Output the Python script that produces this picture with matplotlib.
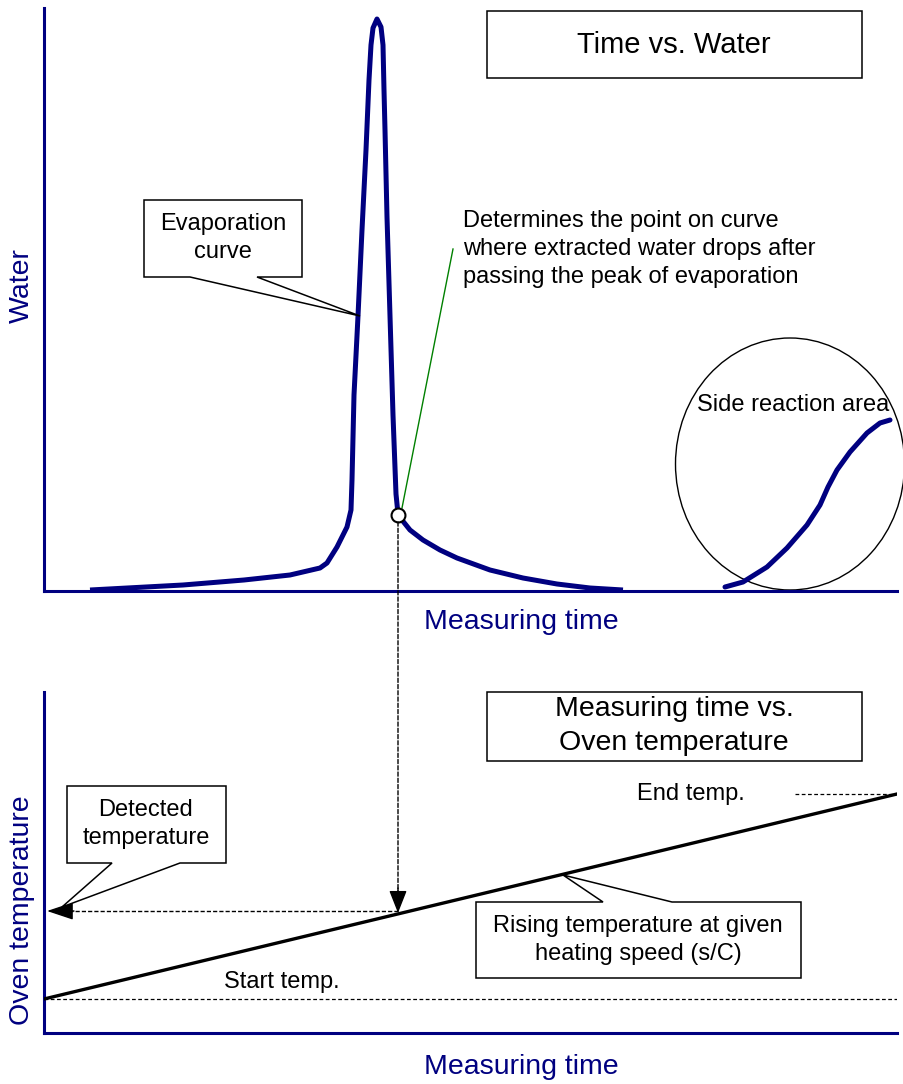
import matplotlib
matplotlib.use('Agg')
import matplotlib.pyplot as plt
from matplotlib.patches import Polygon, Rectangle, Ellipse, ConnectionPatch

plt.rcParams['font.family'] = ['Liberation Sans', 'DejaVu Sans']

NAVY = '#000080'

# evaporation curve (time vs water), arbitrary units
evap_time = [46, 139, 200, 246, 276, 283, 293, 303, 307, 308, 310, 314, 318, 322, 325,
             327, 329, 333, 337, 339, 340, 341, 343, 346, 349, 352, 354, 358, 366, 379,
             396, 413, 446, 479, 513, 546, 579]
evap_water = [1, 6, 11, 16, 23, 28, 44, 64, 81, 111, 196, 275, 361, 441, 511,
              546, 563, 572, 564, 546, 501, 461, 374, 275, 176, 97, 77, 71, 61, 51,
              41, 33, 21, 13, 7, 3, 1]

# side reaction curve
side_time = [681, 699, 723, 743, 763, 776, 784, 793, 806, 823, 836, 846]
side_water = [4, 9, 24, 43, 66, 86, 104, 121, 139, 158, 168, 171]

# detection point on the evaporation curve
detect_time = 354
detect_water = 76

# oven temperature ramp
oven_time = [0, 853]
oven_temp = [34, 239]
start_temp = 34
end_temp = 239
detected_temp = 122

fig = plt.figure(figsize=(9.04, 10.84), dpi=100)

W, H = 904, 1084
ax1 = fig.add_axes([44 / W, 1 - 591 / H, 853 / W, 583 / H])
ax2 = fig.add_axes([44 / W, 1 - 1033 / H, 853 / W, 341 / H])
for ax, ymax in ((ax1, 583), (ax2, 341)):
    ax.set_xlim(0, 853)
    ax.set_ylim(0, ymax)
    ax.set_xticks([])
    ax.set_yticks([])
    for s in ('top', 'right'):
        ax.spines[s].set_visible(False)
    for s in ('left', 'bottom'):
        ax.spines[s].set_color(NAVY)
        ax.spines[s].set_linewidth(2.2)
    ax.patch.set_visible(False)

# top panel
ax1.plot(evap_time, evap_water, color=NAVY, lw=3.6, solid_capstyle='butt',
         solid_joinstyle='round', zorder=3)
ax1.plot(side_time, side_water, color=NAVY, lw=3.6, solid_capstyle='round',
         solid_joinstyle='round', zorder=3)
ax1.add_patch(Ellipse((746, 127), 229, 252, fill=False, ec='black', lw=1.0, clip_on=False))
ax1.plot([358, 409], [83, 342], color='#008000', lw=1.0, zorder=2)
ax1.plot(detect_time, detect_water, 'o', ms=10, mfc='white', mec='black', mew=1.5, zorder=5)

# bottom panel
dash = (0, (3, 1.5))
ax2.plot(oven_time, oven_temp, color='black', lw=2.4, zorder=3)
ax2.plot([0, 853], [start_temp, start_temp], color='black', lw=0.9, dashes=(3, 2))
ax2.plot([751, 853], [end_temp, end_temp], color='black', lw=0.9, dashes=(3, 2))
ax2.plot([detect_time, 20], [detected_temp, detected_temp], color='black', lw=1.0,
         linestyle=dash)
ax2.annotate('', xy=(3, detected_temp), xytext=(30, detected_temp),
             arrowprops=dict(arrowstyle='-|>,head_length=1.65,head_width=0.55',
                             mutation_scale=10, color='black', lw=1.0,
                             shrinkA=0, shrinkB=0))

con = ConnectionPatch(xyA=(detect_time, detect_water - 7), coordsA=ax1.transData,
                      xyB=(detect_time, 135), coordsB=ax2.transData,
                      color='black', lw=1.0, linestyle=dash)
fig.add_artist(con)
ax2.annotate('', xy=(detect_time, 120), xytext=(detect_time, 145),
             arrowprops=dict(arrowstyle='-|>,head_length=1.4,head_width=0.55',
                             mutation_scale=10, color='black', lw=1.0,
                             shrinkA=0, shrinkB=0))

# overlay in pixel coordinates for boxes and labels
ov = fig.add_axes([0, 0, 1, 1])
ov.set_xlim(0, W)
ov.set_ylim(H, 0)
ov.axis('off')
ov.set_zorder(10)

box_kw = dict(fc='white', ec='black', lw=1.1)
ov.add_patch(Rectangle((487, 11), 375, 67, **box_kw))
ov.add_patch(Rectangle((487, 692), 375, 69, **box_kw))
ov.add_patch(Polygon([(144, 200), (302, 200), (302, 277), (257, 277), (360, 316),
                      (190, 277), (144, 277)], closed=True, **box_kw))
ov.add_patch(Polygon([(67, 786), (226, 786), (226, 863), (180, 863), (62, 907),
                      (112, 863), (67, 863)], closed=True, **box_kw))
ov.add_patch(Polygon([(476, 902), (603, 902), (563, 875), (672, 902), (801, 902),
                      (801, 978), (476, 978)], closed=True, **box_kw))

big = 20.5
small = 17
ls = 1.35
ov.text(674, 45, 'Time vs. Water', fontsize=21, ha='center', va='center')
ov.text(674, 726, 'Measuring time vs.\nOven temperature', fontsize=big,
        ha='center', va='center', linespacing=ls)
ov.text(223, 238, 'Evaporation\ncurve', fontsize=small, ha='center', va='center',
        linespacing=ls)
ov.text(146, 824, 'Detected\ntemperature', fontsize=small, ha='center', va='center',
        linespacing=ls)
ov.text(638, 940, 'Rising temperature at given\nheating speed (s/C)', fontsize=small,
        ha='center', va='center', linespacing=ls)
ov.text(463, 249, 'Determines the point on curve\nwhere extracted water drops after\n'
        'passing the peak of evaporation', fontsize=small, ha='left', va='center',
        linespacing=ls)
ov.text(793, 405, 'Side reaction area', fontsize=small, ha='center', va='center')
ov.text(691, 794, 'End temp.', fontsize=small, ha='center', va='center')
ov.text(282, 982, 'Start temp.', fontsize=small, ha='center', va='center')

ov.text(521, 622, 'Measuring time', fontsize=big, color=NAVY, ha='center', va='center')
ov.text(521, 1067, 'Measuring time', fontsize=big, color=NAVY, ha='center', va='center')
ov.text(22, 286, 'Water', fontsize=big, color=NAVY, rotation=90, ha='center', va='center')
ov.text(22, 910, 'Oven temperature', fontsize=big, color=NAVY, rotation=90,
        ha='center', va='center')

fig.savefig('out.png', dpi=100)
